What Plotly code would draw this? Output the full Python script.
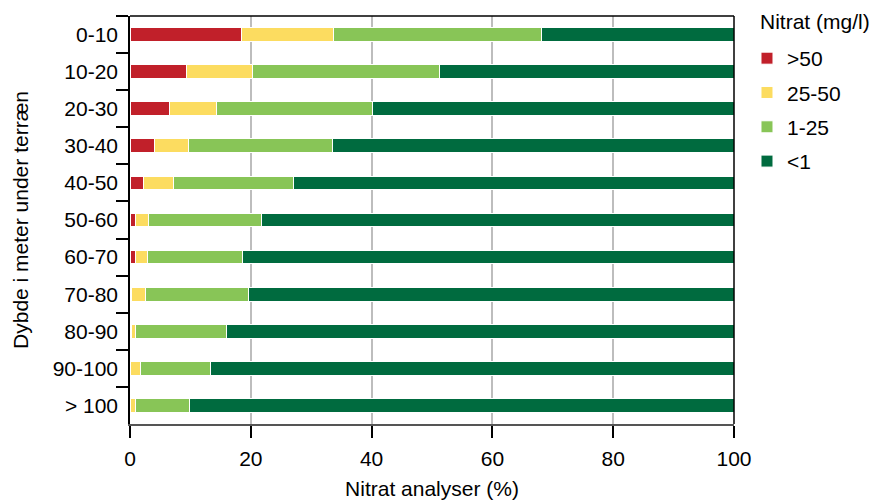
import plotly.graph_objects as go

# Depth intervals (meters below ground) and share of nitrate analyses (%) per concentration class
depths = ["0-10", "10-20", "20-30", "30-40", "40-50", "50-60",
          "60-70", "70-80", "80-90", "90-100", "> 100"]
over_50 = [18.5, 9.4, 6.5, 4.0, 2.2, 0.9, 0.9, 0.3, 0.3, 0.0, 0.0]
from_25_to_50 = [15.2, 10.9, 7.9, 5.7, 5.0, 2.2, 2.0, 2.2, 0.6, 1.8, 0.9]
from_1_to_25 = [34.5, 30.9, 25.7, 23.9, 19.8, 18.7, 15.8, 17.1, 15.0, 11.6, 9.0]
under_1 = [31.8, 48.8, 59.9, 66.4, 73.0, 78.2, 81.3, 80.4, 84.1, 86.6, 90.1]

x_ticks = [0, 20, 40, 60, 80, 100]

series = [
    (">50", over_50, "#C1202A"),
    ("25-50", from_25_to_50, "#FCDC60"),
    ("1-25", from_1_to_25, "#88C557"),
    ("<1", under_1, "#006B3F"),
]

FONT = "Liberation Sans, Arial, Helvetica, sans-serif"

fig = go.Figure()
for name, values, color in series:
    fig.add_trace(go.Bar(
        y=depths, x=values, name=name, orientation="h",
        legendgroup=name,
        marker=dict(color=color, line=dict(color="white", width=1)),
        width=0.37,
    ))

fig.update_layout(
    barmode="stack",
    width=870, height=504,
    margin=dict(l=130, r=136, t=16, b=80, autoexpand=False),
    paper_bgcolor="white", plot_bgcolor="white",
    font=dict(family=FONT, size=21, color="black"),
    legend=dict(
        x=1.0215, xanchor="left", y=0.946, yanchor="top",
        traceorder="grouped", tracegroupgap=4,
        font=dict(size=21),
        bgcolor="rgba(0,0,0,0)",
    ),
    xaxis=dict(
        range=[0, 100], tickvals=x_ticks,
        showgrid=True, gridcolor="#BDBDBD", gridwidth=1.5,
        showline=True, linecolor="#555555", linewidth=2,
        ticks="outside", ticklen=12, tickcolor="black", tickwidth=1.5,
        ticklabelstandoff=3,
        zeroline=False, automargin=False,
        title=dict(text="Nitrat analyser (%)", standoff=12,
                   font=dict(size=21)),
    ),
    yaxis=dict(
        autorange="reversed",
        showline=True, linecolor="black", linewidth=1.5,
        ticks="outside", tickson="boundaries", ticklen=12,
        tickcolor="black", tickwidth=1.5,
        ticklabelstandoff=6,
        showgrid=False, zeroline=False, automargin=False,
        title=dict(text="Dybde i meter under terræn", standoff=18,
                   font=dict(size=21)),
    ),
    shapes=[
        dict(type="line", xref="paper", yref="paper", x0=0, x1=1, y0=1, y1=1,
             line=dict(color="black", width=1.5)),
        dict(type="line", xref="paper", yref="paper", x0=1, x1=1, y0=0, y1=1,
             line=dict(color="black", width=1.5)),
    ],
    annotations=[
        dict(text="Nitrat (mg/l)", xref="paper", yref="paper",
             x=1.0397, y=0.9853, xanchor="left", yanchor="middle",
             showarrow=False, font=dict(size=21)),
    ],
)

fig.write_html("out.html")
